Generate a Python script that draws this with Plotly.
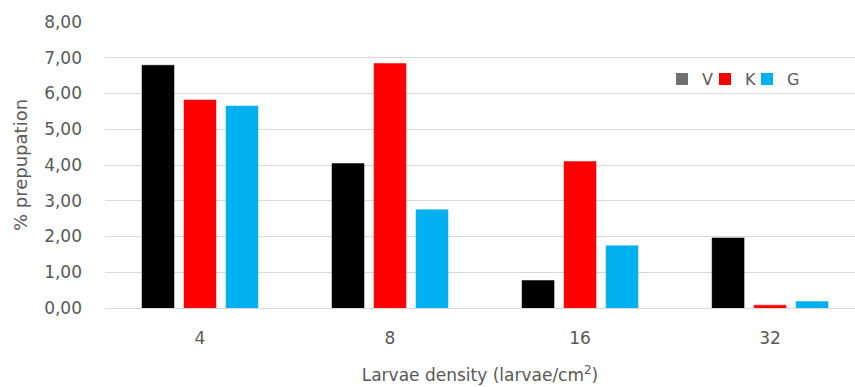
import plotly.graph_objects as go

categories = ["4", "8", "16", "32"]
series_names = ["V", "K", "G"]
v_values = [6.79, 4.04, 0.77, 1.96]
k_values = [5.82, 6.84, 4.10, 0.08]
g_values = [5.65, 2.75, 1.74, 0.18]
bar_colors = ["#000000", "#FF0000", "#00B0F0"]
legend_colors = ["#707070", "#FF0000", "#00B0F0"]
y_ticks = [0, 1, 2, 3, 4, 5, 6, 7, 8]

font_fam = "DejaVu Sans, sans-serif"
txt = "#595959"

fig = go.Figure()
for name, vals, col in zip(series_names, [v_values, k_values, g_values], bar_colors):
    fig.add_trace(go.Bar(x=categories, y=vals, name=name, marker_color=col,
                         marker_line=dict(color=col, width=0.5), showlegend=False))

legend_ids = ["legend", "legend2", "legend3"]
legend_x = [0.7427, 0.800, 0.856]
for name, col, lid in zip(series_names, legend_colors, legend_ids):
    fig.add_trace(go.Scatter(x=[None], y=[None], mode="markers", name=name, legend=lid,
                             marker=dict(symbol="square", size=12, color=col)))

legend_common = dict(orientation="h", y=0.80, xanchor="left", yanchor="middle",
                     font=dict(size=16, color=txt), itemwidth=30,
                     bgcolor="rgba(0,0,0,0)")
fig.update_layout(
    width=855, height=387,
    margin=dict(l=105, r=0, t=22, b=79),
    paper_bgcolor="white", plot_bgcolor="white",
    separators=",.",
    barmode="group", bargap=0.337, bargroupgap=0.238,
    font=dict(family=font_fam, color=txt, size=16),
    legend=dict(x=legend_x[0], **legend_common),
    legend2=dict(x=legend_x[1], **legend_common),
    legend3=dict(x=legend_x[2], **legend_common),
    xaxis=dict(type="category", range=[-0.5, 3.447], showgrid=False, showline=False,
               ticks="", ticklabelstandoff=18, tickfont=dict(size=17, color=txt),
               title=dict(text="Larvae density (larvae/cm<sup>2</sup>)", standoff=22,
                          font=dict(size=17, color=txt))),
    yaxis=dict(range=[0, 8], tickvals=y_ticks, tickformat=".2f", showgrid=True,
               gridcolor="#D9D9D9", gridwidth=1, zeroline=True, zerolinecolor="#D9D9D9",
               zerolinewidth=1, showline=False, ticks="", ticklabelstandoff=22,
               tickfont=dict(size=17, color=txt),
               title=dict(text="% prepupation", standoff=11,
                          font=dict(size=18, color=txt))),
)
fig.write_html("out.html")
